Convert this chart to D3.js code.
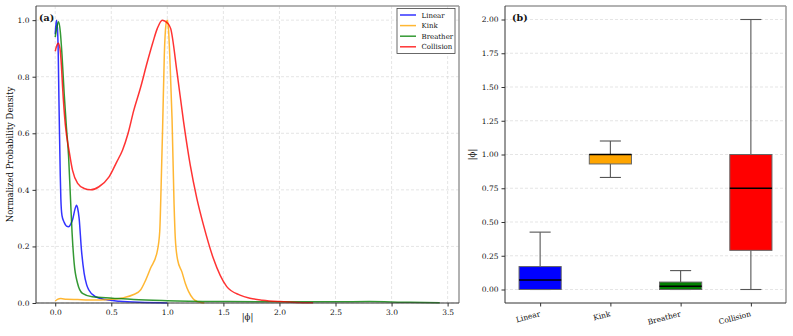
<!DOCTYPE html>
<html>
<head>
<meta charset="utf-8">
<script src="https://cdn.jsdelivr.net/npm/d3@7"></script>
<style>
  body { margin: 0; background: #fff; }
  text { font-family: "DejaVu Serif", serif; fill: #111; }
</style>
</head>
<body>
<div id="chart"></div>
<script>
// ---- data ----
const seriesNames = ["Linear", "Kink", "Breather", "Collision"];
const seriesColors = ["#0000ff", "#ffa500", "#008000", "#ff0000"];

// KDE curves, [|phi|, normalized density]
const linearCurve = [[0,0.95],[0.01,1.0],[0.02,0.97],[0.027,0.88],[0.033,0.72],[0.04,0.56],[0.045,0.45],
  [0.05,0.37],[0.06,0.31],[0.08,0.285],[0.1,0.272],[0.119,0.27],[0.14,0.28],[0.155,0.295],[0.175,0.33],
  [0.19,0.346],[0.2,0.335],[0.213,0.3],[0.234,0.187],[0.258,0.105],[0.28,0.065],[0.3,0.046],[0.36,0.022],
  [0.45,0.012],[0.57,0.006],[0.8,0.002],[1.0,0.0]];
const kinkCurve = [[0,0.007],[0.02,0.013],[0.05,0.016],[0.1,0.013],[0.2,0.012],[0.3,0.011],[0.4,0.011],
  [0.5,0.013],[0.6,0.018],[0.7,0.03],[0.761,0.046],[0.8,0.075],[0.85,0.123],[0.909,0.181],[0.932,0.252],
  [0.945,0.42],[0.958,0.62],[0.973,0.876],[0.99,0.99],[1.0,1.0],[1.01,0.97],[1.025,0.84],[1.042,0.65],
  [1.06,0.35],[1.071,0.229],[1.092,0.152],[1.13,0.11],[1.16,0.07],[1.19,0.04],[1.23,0.015],[1.263,0.006],
  [1.3,0.002],[1.33,0.0]];
const breatherCurve = [[0,0.94],[0.015,0.975],[0.03,0.994],[0.045,0.96],[0.06,0.88],[0.08,0.74],[0.1,0.62],
  [0.119,0.52],[0.135,0.38],[0.15,0.25],[0.169,0.14],[0.199,0.07],[0.243,0.034],[0.33,0.022],[0.51,0.017],
  [0.7,0.012],[1.0,0.008],[1.5,0.005],[2.0,0.004],[2.5,0.004],[2.8,0.005],[3.1,0.003],[3.43,0.001]];
const collisionCurve = [[0,0.89],[0.01,0.905],[0.027,0.918],[0.042,0.9],[0.055,0.84],[0.066,0.76],[0.09,0.63],
  [0.125,0.535],[0.154,0.47],[0.2,0.423],[0.258,0.405],[0.317,0.4],[0.39,0.411],[0.48,0.446],[0.55,0.5],
  [0.6,0.54],[0.65,0.6],[0.7,0.68],[0.76,0.76],[0.82,0.85],[0.87,0.92],[0.91,0.97],[0.955,1.0],[1.0,0.99],
  [1.03,0.97],[1.086,0.817],[1.145,0.64],[1.204,0.488],[1.263,0.37],[1.322,0.276],[1.41,0.158],[1.53,0.058],
  [1.648,0.028],[1.736,0.017],[1.85,0.01],[2.0,0.005],[2.15,0.002],[2.3,0.001]];
const curves = [linearCurve, kinkCurve, breatherCurve, collisionCurve];

// box plot stats of |phi|
const boxLow = [0, 0.83, 0, 0];
const boxQ1 = [0, 0.93, 0, 0.29];
const boxMedian = [0.07, 1.0, 0.025, 0.75];
const boxQ3 = [0.17, 1.0, 0.055, 1.0];
const boxHigh = [0.425, 1.10, 0.14, 2.0];

// tick values
const kdeXTicks = [0, 0.5, 1, 1.5, 2, 2.5, 3, 3.5];
const kdeYTicks = [0, 0.2, 0.4, 0.6, 0.8, 1.0];
const boxYTicks = [0, 0.25, 0.5, 0.75, 1.0, 1.25, 1.5, 1.75, 2.0];

// ---- layout ----
const W = 793, H = 336;
const svg = d3.select("#chart").append("svg").attr("width", W).attr("height", H);

const gridStyle = (sel) => sel.attr("stroke", "#d4d4d4").attr("stroke-width", 0.6).attr("stroke-dasharray", "3,2");

function drawFrame(g, w, h) {
  g.append("line").attr("x1", 0).attr("x2", w).attr("y1", 0).attr("y2", 0).attr("stroke", "#999").attr("stroke-width", 1.5);
  g.append("line").attr("x1", w).attr("x2", w).attr("y1", 0).attr("y2", h).attr("stroke", "#999").attr("stroke-width", 1.5);
  g.append("line").attr("x1", 0).attr("x2", 0).attr("y1", 0).attr("y2", h).attr("stroke", "#333").attr("stroke-width", 1);
  g.append("line").attr("x1", 0).attr("x2", w).attr("y1", h).attr("y2", h).attr("stroke", "#333").attr("stroke-width", 1);
}

function styleAxis(a) {
  a.select(".domain").remove();
  a.selectAll(".tick line").attr("stroke", "#333");
  a.selectAll(".tick text").attr("font-size", 7.5).attr("font-family", "DejaVu Serif").attr("fill", "#111");
}

// ---- panel (a): KDE ----
{
  const m = { left: 36, top: 6, w: 423, h: 297 };
  const g = svg.append("g").attr("transform", `translate(${m.left},${m.top})`);
  const x = d3.scaleLinear().domain([-0.1715, 3.6015]).range([0, m.w]);
  const y = d3.scaleLinear().domain([0, 1.05]).range([m.h, 0]);

  g.append("g").selectAll("line").data(kdeXTicks).join("line")
    .attr("x1", d => x(d)).attr("x2", d => x(d)).attr("y1", 0).attr("y2", m.h).call(gridStyle);
  g.append("g").selectAll("line").data(kdeYTicks).join("line")
    .attr("x1", 0).attr("x2", m.w).attr("y1", d => y(d)).attr("y2", d => y(d)).call(gridStyle);

  const line = d3.line().x(d => x(d[0])).y(d => y(d[1])).curve(d3.curveMonotoneX);
  curves.forEach((c, i) => {
    g.append("path").datum(c).attr("fill", "none").attr("stroke", seriesColors[i])
      .attr("stroke-opacity", 0.8).attr("stroke-width", 1.5).attr("d", line);
  });

  drawFrame(g, m.w, m.h);
  g.append("g").attr("transform", `translate(0,${m.h})`)
    .call(d3.axisBottom(x).tickValues(kdeXTicks).tickFormat(d3.format(".1f")).tickSize(3.5).tickPadding(3))
    .call(styleAxis);
  g.append("g")
    .call(d3.axisLeft(y).tickValues(kdeYTicks).tickFormat(d3.format(".1f")).tickSize(3.5).tickPadding(3))
    .call(styleAxis);

  g.append("text").attr("x", 3).attr("y", 15).attr("font-size", 9.5).attr("font-weight", "bold").text("(a)");
  g.append("text").attr("x", m.w / 2).attr("y", 320 - m.top).attr("text-anchor", "middle").attr("font-size", 8.5).text("|ϕ|");
  g.append("text").attr("transform", `translate(${13 - m.left},${m.h / 2}) rotate(-90)`)
    .attr("text-anchor", "middle").attr("font-size", 8.5).text("Normalized Probability Density");

  // legend
  const lg = g.append("g").attr("transform", `translate(${397 - m.left},${8.5 - m.top})`);
  lg.append("rect").attr("width", 58).attr("height", 45).attr("fill", "#fff")
    .attr("stroke", "#444").attr("stroke-width", 0.8);
  seriesNames.forEach((n, i) => {
    const yy = 6.5 + i * 10.6;
    lg.append("line").attr("x1", 3).attr("x2", 19).attr("y1", yy).attr("y2", yy)
      .attr("stroke", seriesColors[i]).attr("stroke-opacity", 0.8).attr("stroke-width", 1.5);
    lg.append("text").attr("x", 24.5).attr("y", yy + 2.5).attr("font-size", 7).text(n);
  });
}

// ---- panel (b): box plot ----
{
  const m = { left: 505, top: 6, w: 281, h: 297 };
  const g = svg.append("g").attr("transform", `translate(${m.left},${m.top})`);
  const x = d3.scaleLinear().domain([0.5, 4.5]).range([0, m.w]);
  const y = d3.scaleLinear().domain([-0.1, 2.1]).range([m.h, 0]);
  const bw = x(1.3) - x(1);
  const whisk = "#555";

  g.append("g").selectAll("line").data(boxYTicks).join("line")
    .attr("x1", 0).attr("x2", m.w).attr("y1", d => y(d)).attr("y2", d => y(d)).call(gridStyle);

  const boxes = g.append("g").selectAll("g").data(seriesNames).join("g")
    .attr("transform", (d, i) => `translate(${x(i + 1)},0)`);
  boxes.append("line").attr("x1", 0).attr("x2", 0).attr("y1", (d, i) => y(boxQ3[i])).attr("y2", (d, i) => y(boxHigh[i]))
    .attr("stroke", whisk).attr("stroke-width", 1.1);
  boxes.append("line").attr("x1", 0).attr("x2", 0).attr("y1", (d, i) => y(boxQ1[i])).attr("y2", (d, i) => y(boxLow[i]))
    .attr("stroke", whisk).attr("stroke-width", 1.1);
  boxes.append("line").attr("x1", -bw / 2).attr("x2", bw / 2).attr("y1", (d, i) => y(boxHigh[i])).attr("y2", (d, i) => y(boxHigh[i]))
    .attr("stroke", whisk).attr("stroke-width", 1.1);
  boxes.append("line").attr("x1", -bw / 2).attr("x2", bw / 2).attr("y1", (d, i) => y(boxLow[i])).attr("y2", (d, i) => y(boxLow[i]))
    .attr("stroke", whisk).attr("stroke-width", 1.1);
  boxes.append("rect").attr("x", -bw).attr("width", 2 * bw)
    .attr("y", (d, i) => y(boxQ3[i])).attr("height", (d, i) => y(boxQ1[i]) - y(boxQ3[i]))
    .attr("fill", (d, i) => seriesColors[i]).attr("stroke", "#666").attr("stroke-width", 1);
  boxes.append("line").attr("x1", -bw).attr("x2", bw).attr("y1", (d, i) => y(boxMedian[i])).attr("y2", (d, i) => y(boxMedian[i]))
    .attr("stroke", "#000").attr("stroke-width", 1.5);

  drawFrame(g, m.w, m.h);
  const xa = g.append("g").attr("transform", `translate(0,${m.h})`)
    .call(d3.axisBottom(x).tickValues([1, 2, 3, 4]).tickFormat(i => seriesNames[i - 1]).tickSize(3.5))
    .call(styleAxis);
  xa.selectAll(".tick text").attr("text-anchor", "end").attr("dy", null).attr("y", null)
    .attr("transform", "translate(0,13) rotate(-15)");
  g.append("g")
    .call(d3.axisLeft(y).tickValues(boxYTicks).tickFormat(d3.format(".2f")).tickSize(3.5).tickPadding(3))
    .call(styleAxis);

  g.append("text").attr("x", 7).attr("y", 15).attr("font-size", 9.5).attr("font-weight", "bold").text("(b)");
  g.append("text").attr("transform", `translate(${475 - m.left},${y(1.0)}) rotate(-90)`)
    .attr("text-anchor", "middle").attr("font-size", 8.5).text("|ϕ|");
}
</script>
</body>
</html>
